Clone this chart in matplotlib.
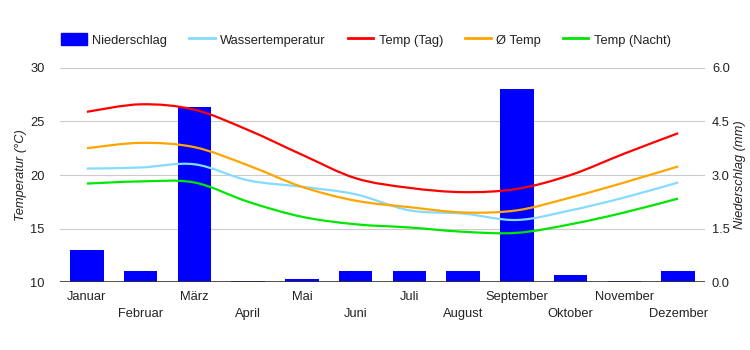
import numpy as np
import matplotlib.pyplot as plt
from matplotlib.path import Path
from matplotlib.patches import PathPatch
from matplotlib.lines import Line2D
from matplotlib.patches import Patch

plt.rcParams['font.family'] = ['Liberation Sans', 'DejaVu Sans']

monate = ['Januar', 'Februar', 'März', 'April', 'Mai', 'Juni', 'Juli',
          'August', 'September', 'Oktober', 'November', 'Dezember']
niederschlag = [0.9, 0.3, 4.9, 0.02, 0.1, 0.3, 0.3, 0.3, 5.4, 0.2, 0.02, 0.3]
wasser = [20.6, 20.7, 21.0, 19.5, 18.9, 18.2, 16.7, 16.4, 15.8, 16.7, 17.9, 19.3]
temp_tag = [25.9, 26.6, 26.1, 24.2, 21.9, 19.7, 18.8, 18.4, 18.7, 20.0, 22.0, 23.9]
temp_avg = [22.5, 23.0, 22.6, 20.9, 18.9, 17.6, 17.0, 16.5, 16.7, 17.9, 19.3, 20.8]
temp_nacht = [19.2, 19.4, 19.3, 17.5, 16.1, 15.4, 15.1, 14.7, 14.6, 15.4, 16.5, 17.8]

c_rain = '#0000ff'
c_wasser = '#84dbff'
c_tag = '#ff0000'
c_avg = '#ffa500'
c_nacht = '#00e600'
grid_c = '#cccccc'
txt_c = '#222222'
fs = 9.3


def smooth_path(xs, ys):
    # Catmull-Rom -> cubic bezier, drawn by matplotlib Path
    p = np.column_stack([xs, ys]).astype(float)
    n = len(p)
    verts = [p[0]]
    codes = [Path.MOVETO]
    for i in range(n - 1):
        p0 = p[i - 1] if i > 0 else p[i]
        p3 = p[i + 2] if i + 2 < n else p[i + 1]
        c1 = p[i] + (p[i + 1] - p0) / 6
        c2 = p[i + 1] - (p3 - p[i]) / 6
        verts += [c1, c2, p[i + 1]]
        codes += [Path.CURVE4] * 3
    return Path(verts, codes)


fig = plt.figure(figsize=(7.5, 3.5), dpi=100)
ax = fig.add_axes([0.08, 0.194, 0.86, 0.612])
ax2 = ax.twinx()
ax.set_zorder(ax2.get_zorder() + 1)
ax.patch.set_visible(False)

x = np.arange(len(monate))
ax2.bar(x, niederschlag, width=0.62, color=c_rain, zorder=2)
ax2.set_ylim(0, 6)
ax2.set_yticks([0, 1.5, 3, 4.5, 6])
ax2.set_yticklabels(['0.0', '1.5', '3.0', '4.5', '6.0'])

for ys, col in [(wasser, c_wasser), (temp_tag, c_tag), (temp_avg, c_avg), (temp_nacht, c_nacht)]:
    ax.add_patch(PathPatch(smooth_path(x, ys), facecolor='none', edgecolor=col, lw=1.6, zorder=3))

ax.set_xlim(-0.5, 11.5)
ax.set_ylim(10, 30)
ax.set_yticks([10, 15, 20, 25, 30])
ax2.yaxis.grid(True, color=grid_c, lw=0.8)
ax2.set_axisbelow(True)

for a in (ax, ax2):
    for s in a.spines.values():
        s.set_visible(False)
    a.tick_params(length=0, labelsize=fs, colors=txt_c)
ax.tick_params(axis='y', pad=11)
ax2.tick_params(axis='y', pad=5)
ax.set_xticks([])
ax.axhline(10, color='#333333', lw=1.2, zorder=4)

for i, m in enumerate(monate):
    yy = -0.043 if i % 2 == 0 else -0.123
    ax.text(i, yy, m, transform=ax.get_xaxis_transform(), ha='center', va='top',
            fontsize=fs, color=txt_c)

ax.set_ylabel('Temperatur (°C)', fontsize=fs, style='italic', color=txt_c, labelpad=2)
ax2.set_ylabel('Niederschlag (mm)', fontsize=fs, style='italic', color=txt_c, labelpad=3)

handles = [Patch(color=c_rain),
           Line2D([], [], color=c_wasser, lw=2),
           Line2D([], [], color=c_tag, lw=2),
           Line2D([], [], color=c_avg, lw=2),
           Line2D([], [], color=c_nacht, lw=2)]
labels = ['Niederschlag', 'Wassertemperatur', 'Temp (Tag)', 'Ø Temp', 'Temp (Nacht)']
fig.legend(handles, labels, loc='center left', bbox_to_anchor=(0.066, 0.886), ncol=5,
           frameon=False, fontsize=fs, handlelength=2.0, handleheight=1.0,
           columnspacing=1.7, handletextpad=0.4, labelcolor=txt_c)

fig.savefig('out.png', dpi=100)
